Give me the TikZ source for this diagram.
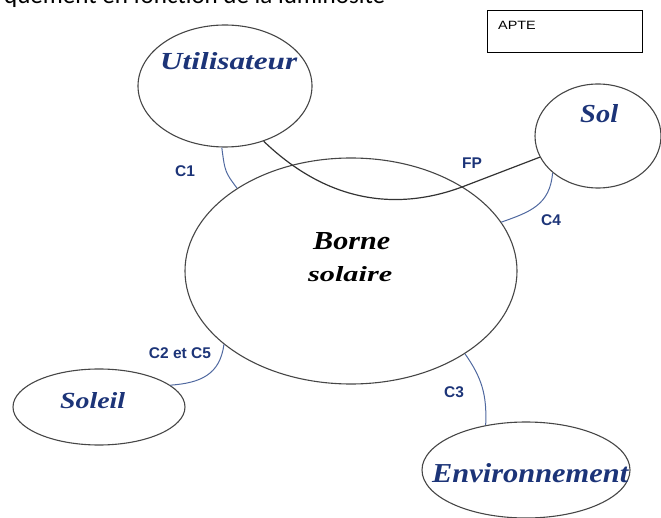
\documentclass[tikz,border=0pt]{standalone}
\usepackage{fontspec}
\usepackage{graphicx}
\usetikzlibrary{shapes.geometric}
\setmainfont{Liberation Serif}
\newfontfamily\lblfont{Liberation Serif}
\newfontfamily\cfont{Liberation Sans}
\newfontfamily\topfont{Carlito}
\definecolor{navy}{RGB}{28,52,120}
\definecolor{linkblue}{RGB}{80,105,160}
\definecolor{edgegray}{RGB}{70,70,70}
\begin{document}
\begin{tikzpicture}[x=1pt,y=-1pt,
  oval/.style={ellipse, draw=edgegray, line width=1.1pt, inner sep=0pt},
  ename/.style={inner sep=0pt, anchor=base west, text=navy, font=\lblfont\bfseries\itshape},
  link/.style={draw=linkblue, line width=1pt},
  fpline/.style={draw=black!80, line width=1.2pt},
  clabel/.style={text=navy, font=\cfont\bfseries\fontsize{15.5}{15.5}\selectfont, inner sep=0pt}]
\useasboundingbox (0,0) rectangle (661,518);
\clip (0,0) rectangle (661,518);

% top clipped text
\node[anchor=base west, inner sep=0pt] (toptext) at (4,4)
  {\resizebox{381pt}{!}{\topfont\fontsize{24}{24}\selectfont quement en fonction de la luminosité}};

% APTE box
\node[draw=black, line width=0.8pt, minimum width=155pt, minimum height=42pt, inner sep=0pt] (apte) at (564.5,31) {};
\node[anchor=base west, inner sep=0pt] (aptetext) at (498,29.5)
  {\cfont\fontsize{12}{12}\selectfont\scalebox{1.2}[1]{APTE}};

% ellipses
\node[oval, minimum width=174pt, minimum height=122pt] (u) at (225,86) {};
\node[oval, minimum width=126pt, minimum height=104pt] (s) at (598,136) {};
\node[oval, minimum width=332pt, minimum height=226pt] (b) at (351,271) {};
\node[oval, minimum width=172pt, minimum height=76pt] (so) at (99,407) {};
\node[oval, minimum width=208pt, minimum height=96pt] (e) at (526,470) {};

% ellipse texts
\node[ename] (ut) at (160,70) {\resizebox{137pt}{17pt}{Utilisateur}};
\node[ename] (st) at (580,123) {\resizebox{38pt}{18pt}{Sol}};
\node[ename] (sot) at (60,408) {\resizebox{65pt}{16pt}{Soleil}};
\node[ename] (et) at (432,482) {\resizebox{196pt}{19pt}{Environnement}};
\node[ename, text=black] (bt1) at (313,250) {\resizebox{77pt}{17pt}{Borne}};
\node[ename, text=black] (bt2) at (308,282) {\resizebox{84pt}{15pt}{solaire}};

% connectors
\draw[fpline] (u.-55.8) .. controls (330,205) and (400,210) .. (462,187) -- (s.200.8);
\draw[link] (u.-93) .. controls (225,172) .. (b.144.5);
\draw[link] (s.219.4) .. controls (550,205) and (530,212) .. (b.18.3);
\draw[link] (b.210.7) .. controls (220,375) and (200,383) .. (so.17.9);
\draw[link] (b.-36.5) .. controls (482,378) and (487,395) .. (e.132.9);

% connector labels
\node[clabel] (c1) at (185,171) {C1};
\node[clabel] (fp) at (472,163) {FP};
\node[clabel] (c4) at (551,220) {C4};
\node[clabel] (c3) at (454,392) {C3};
\node[clabel] (c25) at (180,353) {C2 et C5};
\end{tikzpicture}
\end{document}
